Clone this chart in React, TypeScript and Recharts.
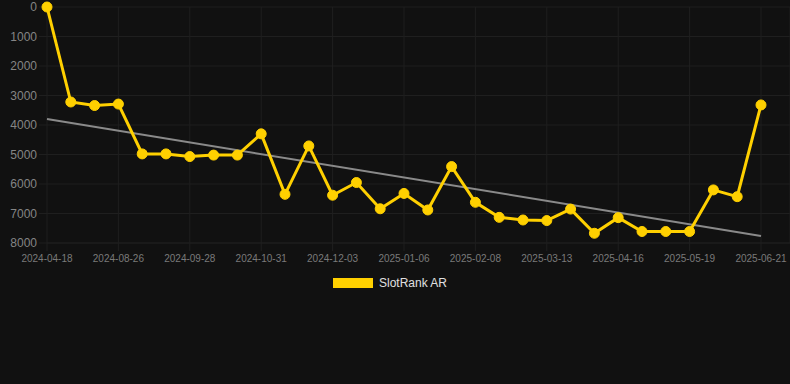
import { LineChart, Line, XAxis, YAxis, CartesianGrid, Legend } from 'recharts';

const dates = [
  '2024-04-18', '2024-08-04', '2024-08-15', '2024-08-26', '2024-09-06', '2024-09-17',
  '2024-09-28', '2024-10-09', '2024-10-20', '2024-10-31', '2024-11-11', '2024-11-22',
  '2024-12-03', '2024-12-14', '2024-12-25', '2025-01-06', '2025-01-17', '2025-01-28',
  '2025-02-08', '2025-02-19', '2025-03-02', '2025-03-13', '2025-03-24', '2025-04-05',
  '2025-04-16', '2025-04-27', '2025-05-08', '2025-05-19', '2025-05-30', '2025-06-10',
  '2025-06-21',
];

const rank = [
  0, 3220, 3340, 3290, 4980, 4980, 5070, 5020, 5020, 4300, 6350, 4710,
  6380, 5950, 6840, 6320, 6880, 5410, 6620, 7130, 7220, 7240, 6850, 7670,
  7140, 7610, 7610, 7610, 6200, 6430, 3320,
];

// trend endpoints only, the line is drawn straight between them
const trendStart = 3800;
const trendEnd = 7760;

const yTicks = [0, 1000, 2000, 3000, 4000, 5000, 6000, 7000, 8000];

const data = dates.map((d, i) => ({
  date: d,
  rank: rank[i],
  trend: i === 0 ? trendStart : i === dates.length - 1 ? trendEnd : null,
}));

const GRID = '#1f1f1f';

const LegendBox = () => (
  <div style={{ height: 20, display: 'flex', justifyContent: 'center', alignItems: 'center', paddingRight: 10, fontFamily: 'Arial, "Liberation Sans", sans-serif' }}>
    <span style={{ width: 40, height: 10, background: '#ffd000', display: 'inline-block', marginRight: 6 }} />
    <span style={{ fontSize: 12, color: '#e0e0e0' }}>SlotRank AR</span>
  </div>
);

export default function App() {
  return (
    <div style={{ width: 790, height: 384, background: '#111111' }}>
      <style>{'body{margin:0;background:#111111}'}</style>
      <LineChart
        width={790}
        height={384}
        data={data}
        margin={{ top: 7, right: 0, left: 0, bottom: 91 }}
        style={{ fontFamily: 'Arial, "Liberation Sans", sans-serif' }}
      >
        <CartesianGrid stroke={GRID} strokeWidth={1} />
        <XAxis
          dataKey="date"
          interval={2}
          padding={{ left: 0, right: 29 }}
          tick={{ fontSize: 10, fill: '#7a7a7a' }}
          tickLine={{ stroke: GRID }}
          tickSize={8}
          tickMargin={4}
          axisLine={{ stroke: GRID }}
          height={30}
        />
        <YAxis
          reversed
          domain={[0, 8000]}
          ticks={yTicks}
          interval={0}
          tick={{ fontSize: 12, fill: '#858585' }}
          tickLine={{ stroke: GRID }}
          tickSize={8}
          tickMargin={2}
          axisLine={false}
          width={47}
        />
        <Legend verticalAlign="bottom" content={<LegendBox />} />
        <Line
          dataKey="trend"
          connectNulls
          stroke="#8a8a8a"
          strokeWidth={2}
          dot={false}
          activeDot={false}
          isAnimationActive={false}
        />
        <Line
          dataKey="rank"
          stroke="#ffd000"
          strokeWidth={3}
          dot={{ r: 5, fill: '#ffd000', stroke: '#ffd000', strokeWidth: 1 }}
          activeDot={false}
          isAnimationActive={false}
        />
      </LineChart>
    </div>
  );
}
